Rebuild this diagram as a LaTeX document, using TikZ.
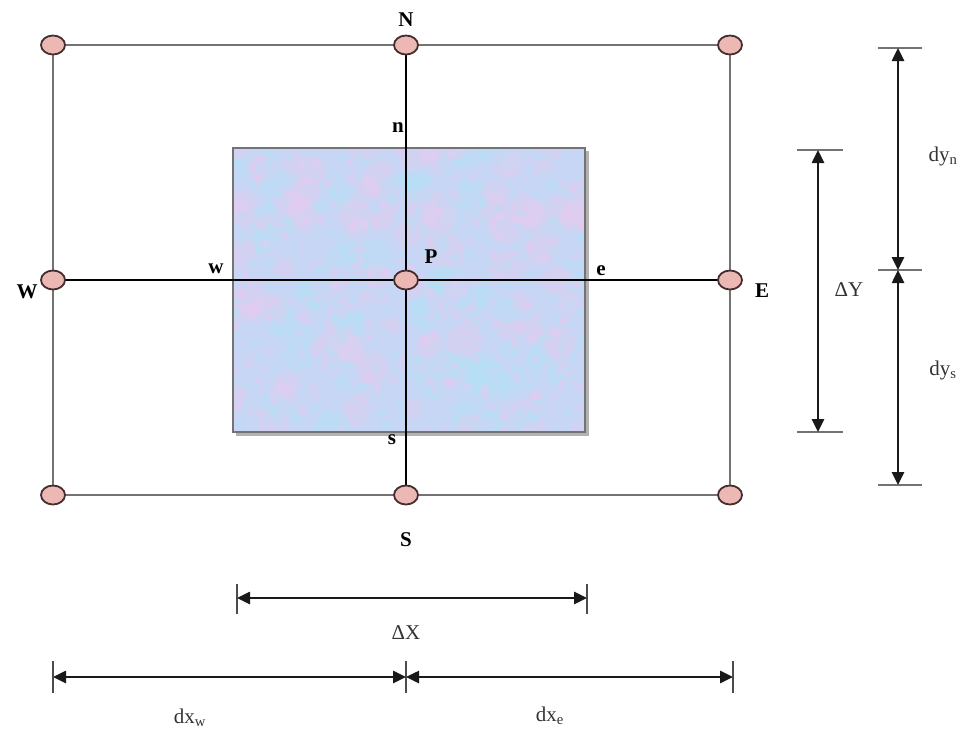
\documentclass[tikz,border=0pt]{standalone}
\usepackage{fontspec}
\setmainfont{Liberation Serif}
\usetikzlibrary{shapes.geometric,arrows.meta}
\definecolor{outergray}{RGB}{115,115,115}
\definecolor{nodepink}{RGB}{236,184,180}
\definecolor{nodeedge}{RGB}{70,45,45}
\definecolor{cvfill}{RGB}{200,214,245}
\definecolor{cvpink}{RGB}{234,202,238}
\definecolor{cvblue}{RGB}{178,226,246}
\definecolor{dimcol}{RGB}{25,25,25}
\tikzset{
  gridpt/.style={ellipse, draw=nodeedge, fill=nodepink, line width=1.8pt, minimum width=24pt, minimum height=19pt, inner sep=0pt},
  outerline/.style={draw=outergray, line width=2.4pt},
  crossline/.style={draw=black, line width=1.8pt},
  blab/.style={font=\fontsize{21}{21}\selectfont\bfseries, inner sep=0pt},
  dlab/.style={font=\fontsize{21}{21}\selectfont, text=black!80, inner sep=0pt},
  dimarrow/.style={draw=dimcol, line width=2.6pt, {Triangle[length=13pt,width=12pt]}-{Triangle[length=13pt,width=12pt]}},
  tick/.style={draw=outergray, line width=2.2pt},
}
\begin{document}
\begin{tikzpicture}[x=1pt,y=-1pt]
\useasboundingbox (0,0) rectangle (963,732);
% grid point coordinates
\coordinate (cNW) at (53,45);  \coordinate (cN) at (406,45);  \coordinate (cNE) at (730,45);
\coordinate (cW)  at (53,280); \coordinate (cP) at (406,280); \coordinate (cE)  at (730,280);
\coordinate (cSW) at (53,495); \coordinate (cS) at (406,495); \coordinate (cSE) at (730,495);
% control volume
\coordinate (cv1) at (233,148); \coordinate (cv2) at (585,432);
\fill[black!30] (236,151) rectangle (589,436);
\fill[cvfill] (cv1) rectangle (cv2);
\pgfmathsetseed{11}
\begin{scope}
\clip (cv1) rectangle (cv2);
\foreach \i in {1,...,160}{
  \pgfmathsetmacro{\xx}{233+352*rnd}
  \pgfmathsetmacro{\yy}{148+284*rnd}
  \pgfmathsetmacro{\rr}{8+10*rnd}
  \pgfmathsetmacro{\cc}{rnd}
  \ifdim\cc pt<0.5pt
    \fill[cvpink, opacity=0.35] (\xx,\yy) circle[radius=\rr];
  \else
    \fill[cvblue, opacity=0.35] (\xx,\yy) circle[radius=\rr];
  \fi
}
\foreach \i in {1,...,700}{
  \pgfmathsetmacro{\xx}{233+352*rnd}
  \pgfmathsetmacro{\yy}{148+284*rnd}
  \pgfmathsetmacro{\rr}{1.5+3.5*rnd}
  \pgfmathsetmacro{\cc}{rnd}
  \ifdim\cc pt<0.5pt
    \fill[cvpink, opacity=0.35] (\xx,\yy) circle[radius=\rr];
  \else
    \fill[cvblue, opacity=0.35] (\xx,\yy) circle[radius=\rr];
  \fi
}
\end{scope}
\draw[draw=outergray, line width=2pt] (cv1) rectangle (cv2);
% outer rectangle
\draw[outerline] (cNW) -- (cNE) -- (cSE) -- (cSW) -- cycle;
% cross lines
\draw[crossline] (cN) -- (cS);
\draw[crossline] (cW) -- (cE);
% grid points
\foreach \n in {NW,N,NE,W,P,E,SW,S,SE}{\node[gridpt] (\n) at (c\n) {};}
% labels
\node[blab] (lN) at (406,20) {N};
\node[blab] (lS) at (406,540) {S};
\node[blab] (lW) at (27,292) {W};
\node[blab] (lE) at (762,291) {E};
\node[blab] (lP) at (431,257) {P};
\node[blab] (lw) at (216,269) {w};
\node[blab] (le) at (601,271) {e};
\node[blab] (ln) at (398,128) {n};
\node[blab] (ls) at (392,440) {s};
% right dimensions
\coordinate (dyA) at (898,48);  \coordinate (dyB) at (898,270); \coordinate (dyC) at (898,485);
\coordinate (DYa) at (818,150); \coordinate (DYb) at (818,432);
\draw[tick] (878,48) -- (922,48);
\draw[tick] (878,270) -- (922,270);
\draw[tick] (878,485) -- (922,485);
\draw[tick] (797,150) -- (843,150);
\draw[tick] (797,432) -- (843,432);
\draw[dimarrow] (dyA) -- (dyB);
\draw[dimarrow] (dyB) -- (dyC);
\draw[dimarrow] (DYa) -- (DYb);
\node[dlab] (ldyn) at (943,156) {dy\textsubscript{n}};
\node[dlab] (ldys) at (943,370) {dy\textsubscript{s}};
\node[dlab] (lDY) at (849,290) {ΔY};
% bottom dimensions
\coordinate (DXa) at (237,598); \coordinate (DXb) at (587,598);
\coordinate (dxA) at (53,677); \coordinate (dxB) at (406,677); \coordinate (dxC) at (733,677);
\draw[tick, draw=black!70] (237,584) -- (237,614);
\draw[tick, draw=black!70] (587,584) -- (587,614);
\draw[tick, draw=black!70] (53,661) -- (53,693);
\draw[tick, draw=black!70] (406,661) -- (406,693);
\draw[tick, draw=black!70] (733,661) -- (733,693);
\draw[dimarrow] (DXa) -- (DXb);
\draw[dimarrow] (dxA) -- (dxB);
\draw[dimarrow] (dxB) -- (dxC);
\node[dlab] (lDX) at (406,633) {ΔX};
\node[dlab] (ldxw) at (190,718) {dx\textsubscript{w}};
\node[dlab] (ldxe) at (550,716) {dx\textsubscript{e}};
\end{tikzpicture}
\end{document}
